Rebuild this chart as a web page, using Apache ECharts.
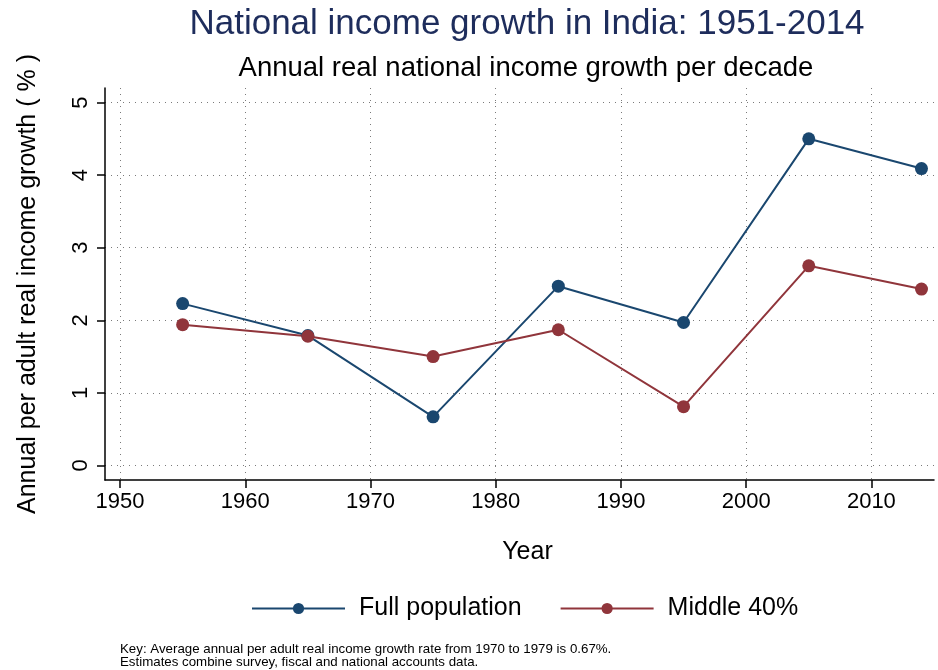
<!DOCTYPE html>
<html>
<head>
<meta charset="utf-8">
<script src="https://cdn.jsdelivr.net/npm/echarts@6/dist/echarts.min.js"></script>
<style>
  html, body { margin: 0; padding: 0; background: #fff; }
  #chart { width: 938px; height: 670px; }
</style>
</head>
<body>
<div id="chart"></div>
<script>
// data
const years = [1955, 1965, 1975, 1985, 1995, 2005, 2014];
const fullPopulation = [2.23, 1.79, 0.67, 2.47, 1.97, 4.50, 4.09];
const middle40 = [1.94, 1.78, 1.50, 1.87, 0.81, 2.75, 2.43];
const xTicks = [1950, 1960, 1970, 1980, 1990, 2000, 2010];
const yTicks = [0, 1, 2, 3, 4, 5];

const FONT = '"Liberation Sans", Arial, sans-serif';
const BLUE = '#1a476f';
const RED = '#90353b';

const chart = echarts.init(document.getElementById('chart'));

const dotted = {
  show: true,
  lineStyle: { color: '#7a7a7a', width: 1, type: [1, 5] }
};

const option = {
  backgroundColor: '#fff',
  animation: false,
  textStyle: { fontFamily: FONT },
  title: [
    {
      text: 'National income growth in India: 1951-2014',
      left: 527,
      top: 7,
      textAlign: 'center',
      padding: 0,
      textStyle: { color: '#1e2d5c', fontSize: 35, fontWeight: 'normal', fontFamily: FONT }
    },
    {
      text: 'Annual real national income growth per decade',
      left: 526,
      top: 54,
      textAlign: 'center',
      padding: 0,
      textStyle: { color: '#000', fontSize: 27.5, fontWeight: 'normal', fontFamily: FONT }
    }
  ],
  legend: {
    left: 251,
    top: 596,
    padding: 0,
    itemWidth: 93,
    itemHeight: 14,
    itemGap: 38,
    textStyle: { fontSize: 25, color: '#000', fontFamily: FONT, padding: [0, 0, 0, 9] },
    data: ['Full population', 'Middle 40%']
  },
  grid: { left: 105, right: 4, top: 88, bottom: 190 },
  xAxis: {
    type: 'value',
    min: 1948.8,
    max: 2015,
    name: 'Year',
    nameLocation: 'middle',
    nameGap: 60,
    nameTextStyle: { fontSize: 25, color: '#000', fontFamily: FONT, padding: [0, 0, 0, 16] },
    axisLine: { show: true, onZero: false, lineStyle: { color: '#000', width: 1.5 } },
    axisTick: { show: true, length: 8, customValues: xTicks, lineStyle: { color: '#000', width: 1.5 } },
    axisLabel: {
      customValues: xTicks,
      formatter: v => String(v),
      fontSize: 22,
      color: '#000',
      margin: 11,
      fontFamily: FONT
    },
    splitLine: dotted
  },
  yAxis: {
    type: 'value',
    min: -0.2,
    max: 5.2,
    name: 'Annual per adult real income growth ( % )',
    nameLocation: 'middle',
    nameGap: 64,
    nameRotate: 90,
    nameTextStyle: { fontSize: 25, color: '#000', fontFamily: FONT },
    axisLine: { show: true, onZero: false, lineStyle: { color: '#000', width: 1.5 } },
    axisTick: { show: true, length: 8, customValues: yTicks, lineStyle: { color: '#000', width: 1.5 } },
    axisLabel: {
      customValues: yTicks,
      formatter: v => String(v),
      fontSize: 22,
      color: '#000',
      margin: 13,
      rotate: 90,
      fontFamily: FONT
    },
    splitLine: dotted
  },
  series: [
    {
      name: 'Full population',
      type: 'line',
      data: years.map((y, i) => [y, fullPopulation[i]]),
      symbol: 'circle',
      symbolSize: 13,
      color: BLUE,
      lineStyle: { color: BLUE, width: 2 },
      itemStyle: { color: BLUE }
    },
    {
      name: 'Middle 40%',
      type: 'line',
      data: years.map((y, i) => [y, middle40[i]]),
      symbol: 'circle',
      symbolSize: 13,
      color: RED,
      lineStyle: { color: RED, width: 2 },
      itemStyle: { color: RED }
    }
  ],
  graphic: [
    {
      type: 'text',
      left: 120,
      top: 643,
      style: {
        text: 'Key: Average annual per adult real income growth rate from 1970 to 1979 is 0.67%.\nEstimates combine survey, fiscal and national accounts data.',
        font: '13.3px "Liberation Sans", Arial, sans-serif',
        lineHeight: 13,
        fill: '#000'
      }
    }
  ]
};

chart.setOption(option);
window.addEventListener('resize', () => chart.resize());
</script>
</body>
</html>
